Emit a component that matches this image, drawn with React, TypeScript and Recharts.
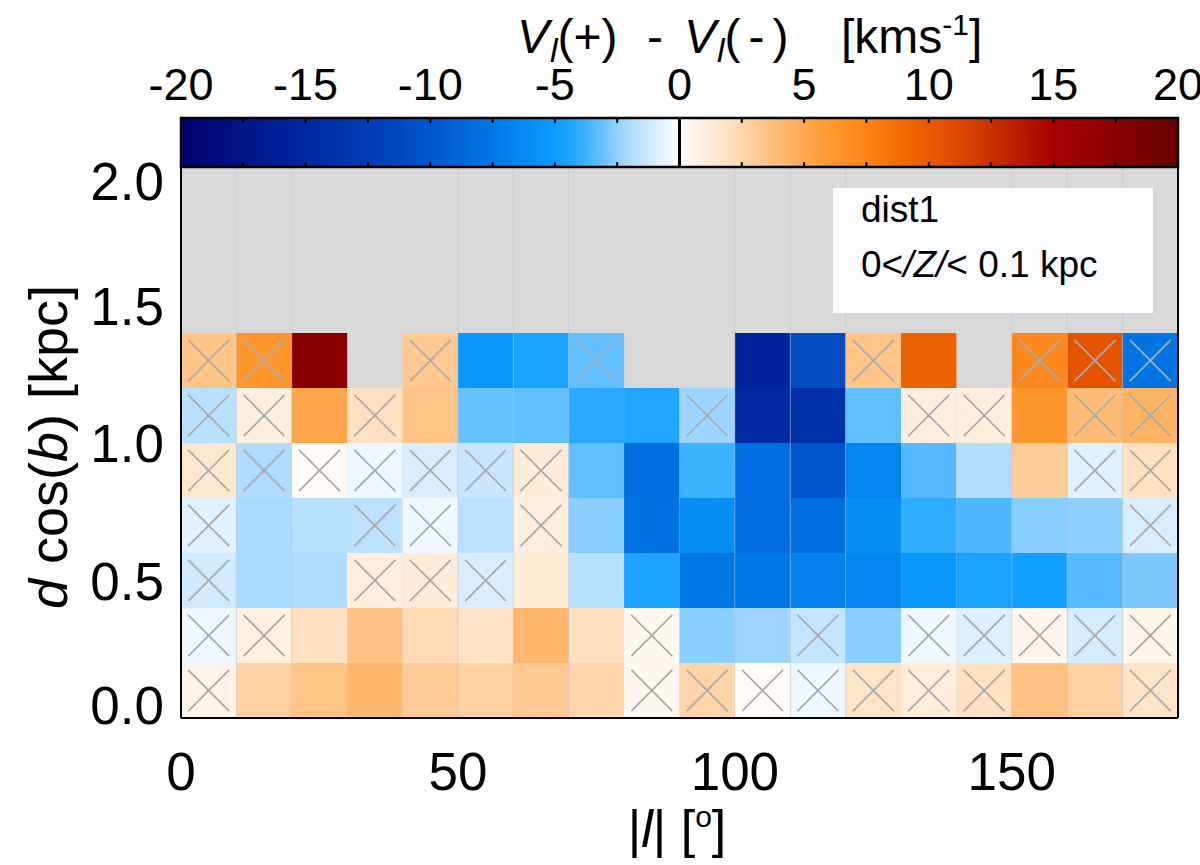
import { ComposedChart, XAxis, YAxis, ReferenceArea, ReferenceLine, Scatter } from "recharts"

const FONT = '"Liberation Sans", Arial, Helvetica, sans-serif'

// bin lower edges
const lonEdges = [0, 10, 20, 30, 40, 50, 60, 70, 80, 90, 100, 110, 120, 130, 140, 150, 160, 170]
const distEdges = [0, 0.2, 0.4, 0.6, 0.8, 1.0, 1.2]

// V_l(+) - V_l(-) per bin [km/s], null = no data (grey)
const dv00 = [0.7, 2.8, 3.5, 4.2, 3.0, 2.8, 3.2, 2.5, 0.4, 2.6, 0.2, -0.5, 1.8, 1.1, 2.0, 3.6, 2.8, 1.8]
const dv02 = [-0.5, 0.9, 2.0, 3.6, 2.3, 1.8, 4.2, 2.0, 0.4, -2.6, -2.3, -1.5, -2.6, -0.4, -0.9, 0.5, -1.1, 0.6]
const dv04 = [-1.2, -2.1, -2.0, 1.0, 1.2, -1.0, 1.3, -1.8, -4.5, -7.6, -7.6, -6.8, -6.6, -5.2, -4.6, -4.8, -3.4, -2.8]
const dv06 = [-0.8, -2.1, -1.8, -1.7, -0.4, -1.7, 1.0, -2.6, -8.0, -6.0, -8.2, -8.2, -6.0, -4.0, -3.6, -2.6, -2.5, -1.0]
const dv08 = [1.5, -2.0, 0.3, -0.5, -1.0, -1.4, 1.2, -3.2, -8.2, -3.8, -8.2, -10.0, -6.6, -3.4, -1.9, 3.0, -0.8, 2.0]
const dv10 = [-1.8, 1.0, 5.2, 2.0, 3.5, -3.1, -3.2, -4.2, -4.4, -2.3, -15.0, -14.0, -3.2, 1.0, 1.0, 6.3, 4.0, 4.5]
const dv12 = [3.5, 6.3, 17.5, null, 3.2, -5.3, -4.6, -3.2, null, null, -15.5, -11.0, 3.5, 9.5, null, 7.2, 10.5, -7.8]

// 1 = crossed out (not significant)
const x00 = [1, 0, 0, 0, 0, 0, 0, 0, 1, 1, 1, 1, 1, 1, 1, 0, 0, 1]
const x02 = [1, 1, 0, 0, 0, 0, 0, 0, 1, 0, 0, 1, 0, 1, 1, 1, 1, 1]
const x04 = [1, 0, 0, 1, 1, 1, 0, 0, 0, 0, 0, 0, 0, 0, 0, 0, 0, 0]
const x06 = [1, 0, 0, 1, 1, 0, 1, 0, 0, 0, 0, 0, 0, 0, 0, 0, 0, 1]
const x08 = [1, 1, 1, 1, 1, 1, 1, 0, 0, 0, 0, 0, 0, 0, 0, 0, 1, 1]
const x10 = [1, 1, 0, 1, 0, 0, 0, 0, 0, 1, 0, 0, 0, 1, 1, 0, 1, 1]
const x12 = [1, 1, 0, 0, 1, 0, 0, 1, 0, 0, 0, 0, 1, 0, 0, 1, 1, 1]

const xTicks = [0, 50, 100, 150]
const yTicks = [0, 0.5, 1.0, 1.5, 2.0]
const cbTicks = [-20, -15, -10, -5, 0, 5, 10, 15, 20]
const cbMinor = [-17.5, -15, -12.5, -10, -7.5, -5, -2.5, 2.5, 5, 7.5, 10, 12.5, 15, 17.5]
const gridLon = [10, 20, 50, 60, 70, 100, 110, 120, 150, 160, 170]

// colour table
const cmapVals = [-20, -17.5, -15, -12.5, -10, -7.5, -5, -4, -3, -2, -1, 0, 1, 2, 3, 4, 5, 6, 7.5, 9, 10, 11, 12.5, 15, 17.5, 20]
const cmapCols = [
  "#00006e", "#001488", "#0028a0", "#003cb4", "#0056cc", "#0078e6", "#0a9cff", "#30acff", "#6ec4ff", "#b0dcff", "#d8eeff",
  "#ffffff",
  "#ffeedd", "#ffe0c0", "#ffcc98", "#ffbb74", "#ffa850", "#ff9a30", "#ff8418", "#f26a00", "#e85a00", "#e04c00", "#c83000",
  "#a80000", "#8a0000", "#640000",
]

const dvRows = [dv00, dv02, dv04, dv06, dv08, dv10, dv12]
const xRows = [x00, x02, x04, x06, x08, x10, x12]

function hex(c: string) {
  return [1, 3, 5].map((i) => parseInt(c.slice(i, i + 2), 16))
}

function colorFor(v: number) {
  const t = Math.max(-20, Math.min(20, v))
  let i = 0
  while (i < cmapVals.length - 2 && t > cmapVals[i + 1]) i++
  const f = (t - cmapVals[i]) / (cmapVals[i + 1] - cmapVals[i])
  const a = hex(cmapCols[i])
  const b = hex(cmapCols[i + 1])
  const m = a.map((ai, k) => Math.round(ai + (b[k] - ai) * f))
  return `rgb(${m[0]},${m[1]},${m[2]})`
}

const cells = dvRows.flatMap((row, r) =>
  row.map((v, c) => ({
    l0: lonEdges[c],
    d0: distEdges[r],
    l: lonEdges[c] + 5,
    d: distEdges[r] + 0.1,
    v,
    cross: xRows[r][c] === 1,
  }))
)

function YTick({ x, y, payload }: any) {
  const v = payload.value
  const shift = v === 2 ? 13 : v === 0 ? -13 : 0
  return (
    <text x={x} y={y + shift} dy="0.36em" textAnchor="end" fontSize={53} fill="#000" fontFamily={FONT}>
      {v.toFixed(1)}
    </text>
  )
}

function XTick({ x, y, payload }: any) {
  return (
    <text x={x} y={y + 72} textAnchor="middle" fontSize={53} fill="#000" fontFamily={FONT}>
      {payload.value}
    </text>
  )
}

function ColourBar() {
  return (
    <ComposedChart width={1200} height={170} margin={{ top: 0, right: 22, bottom: 3, left: 181 }} data={cbTicks.map((v) => ({ v, y: 0.5 }))}>
      <defs>
        <linearGradient id="cbar" x1="0" y1="0" x2="1" y2="0">
          {cmapVals.map((v, i) => (
            <stop key={v} offset={(v + 20) / 40} stopColor={cmapCols[i]} />
          ))}
        </linearGradient>
      </defs>
      <XAxis
        type="number"
        dataKey="v"
        orientation="top"
        domain={[-20, 20]}
        ticks={cbTicks}
        interval={0}
        height={118}
        tickSize={0}
        tickMargin={18}
        axisLine={false}
        tickLine={false}
        tick={{ fontSize: 45, fill: "#000", fontFamily: FONT }}
      />
      <YAxis type="number" dataKey="y" domain={[0, 1]} hide width={0} />
      <ReferenceArea x1={-20} x2={20} y1={0} y2={1} fill="url(#cbar)" fillOpacity={1} stroke="#000" strokeWidth={2.5} />
      {cbMinor.map((v) => (
        <ReferenceLine key={"b" + v} segment={[{ x: v, y: 0 }, { x: v, y: 0.1 }]} stroke="#000" strokeWidth={2} />
      ))}
      {cbMinor.map((v) => (
        <ReferenceLine key={"t" + v} segment={[{ x: v, y: 0.9 }, { x: v, y: 1 }]} stroke="#000" strokeWidth={2} />
      ))}
      <ReferenceLine x={0} stroke="#000" strokeWidth={3} />
      <Scatter dataKey="y" fill="none" isAnimationActive={false} shape={() => <g />} />
    </ComposedChart>
  )
}

function HeatMap() {
  return (
    <ComposedChart width={1200} height={865} margin={{ top: 168, right: 22, bottom: 0, left: 0 }}>
      <XAxis
        type="number"
        dataKey="l"
        domain={[0, 180]}
        ticks={xTicks}
        interval={0}
        allowDataOverflow
        height={147}
        tickSize={0}
        tickMargin={0}
        tickLine={false}
        axisLine={{ stroke: "#000", strokeWidth: 2 }}
        tick={<XTick />}
      />
      <YAxis
        type="number"
        dataKey="d"
        domain={[0, 2]}
        ticks={yTicks}
        interval={0}
        allowDataOverflow
        width={181}
        tickSize={0}
        tickMargin={17}
        tickLine={false}
        axisLine={{ stroke: "#000", strokeWidth: 2 }}
        tick={<YTick />}
      />
      <ReferenceArea x1={0} x2={180} y1={0} y2={2} fill="#d9d9d9" fillOpacity={1} stroke="none" />
      {cells.map((c) =>
        c.v == null ? null : (
          <ReferenceArea
            key={`c${c.l0}-${c.d0}`}
            x1={c.l0}
            x2={c.l0 + 10}
            y1={c.d0}
            y2={c.d0 + 0.2}
            fill={colorFor(c.v)}
            fillOpacity={1}
            stroke="none"
          />
        )
      )}
      {gridLon.map((l) => (
        <ReferenceLine key={"g" + l} segment={[{ x: l, y: 0 }, { x: l, y: 2 }]} stroke="#b8bcd0" strokeOpacity={0.45} strokeWidth={1} />
      ))}
      {cells
        .filter((c) => c.cross && c.v != null)
        .flatMap((c) => [
          <ReferenceLine
            key={`xa${c.l0}-${c.d0}`}
            segment={[{ x: c.l0 + 1.3, y: c.d0 + 0.025 }, { x: c.l0 + 8.7, y: c.d0 + 0.175 }]}
            stroke="#ababab"
            strokeWidth={1.8}
          />,
          <ReferenceLine
            key={`xb${c.l0}-${c.d0}`}
            segment={[{ x: c.l0 + 1.3, y: c.d0 + 0.175 }, { x: c.l0 + 8.7, y: c.d0 + 0.025 }]}
            stroke="#ababab"
            strokeWidth={1.8}
          />,
        ])}
      <ReferenceLine x={180} stroke="#000" strokeWidth={2} />
      <Scatter data={cells} fill="none" isAnimationActive={false} shape={() => <g />} />
    </ComposedChart>
  )
}

function Texts() {
  return (
    <svg width={1200} height={865} style={{ position: "absolute", left: 0, top: 0, pointerEvents: "none" }} fontFamily={FONT}>
      <text x={517} y={53} fontSize={48} fill="#000">
        <tspan fontStyle="italic">V</tspan>
        <tspan fontStyle="italic" fontSize={34} dx={1} dy={9}>l</tspan>
        <tspan dy={-9}>(+)</tspan>
      </text>
      <text x={655} y={53} fontSize={48} fill="#000" textAnchor="middle">-</text>
      <text x={684} y={53} fontSize={48} fill="#000">
        <tspan fontStyle="italic">V</tspan>
        <tspan fontStyle="italic" fontSize={34} dx={1} dy={9}>l</tspan>
        <tspan dy={-9}>(</tspan>
        <tspan dx={8}>-</tspan>
        <tspan dx={8}>)</tspan>
      </text>
      <text x={841} y={53} fontSize={48} fill="#000">
        <tspan>[kms</tspan>
        <tspan fontSize={30} dy={-18}>-1</tspan>
        <tspan dy={18}>]</tspan>
      </text>

      <text transform="translate(67,447) rotate(-90)" textAnchor="middle" fontSize={54} fill="#000">
        <tspan fontStyle="italic">d</tspan>
        <tspan>{" cos("}</tspan>
        <tspan fontStyle="italic">b</tspan>
        <tspan>{") [kpc]"}</tspan>
      </text>

      <text x={677} y={847} textAnchor="middle" fontSize={52} fill="#000">
        <tspan>|</tspan>
        <tspan fontStyle="italic">l</tspan>
        <tspan>{"| ["}</tspan>
        <tspan fontSize={30} dy={-20}>o</tspan>
        <tspan dy={20}>]</tspan>
      </text>

      <rect x={833} y={188} width={320} height={125} fill="#fafcff" />
      <text x={861} y={222} fontSize={37} fill="#000">dist1</text>
      <text x={861} y={277} fontSize={37} fill="#000">
        <tspan>0&lt;</tspan>
        <tspan fontStyle="italic">/Z/</tspan>
        <tspan>{"< 0.1 kpc"}</tspan>
      </text>
    </svg>
  )
}

export default function App() {
  return (
    <div style={{ position: "absolute", left: 0, top: 0, width: 1200, height: 865, background: "#fff", fontFamily: FONT }}>
      <div style={{ position: "absolute", left: 0, top: 0 }}>
        <HeatMap />
      </div>
      <div style={{ position: "absolute", left: 0, top: 0 }}>
        <ColourBar />
      </div>
      <Texts />
    </div>
  )
}
